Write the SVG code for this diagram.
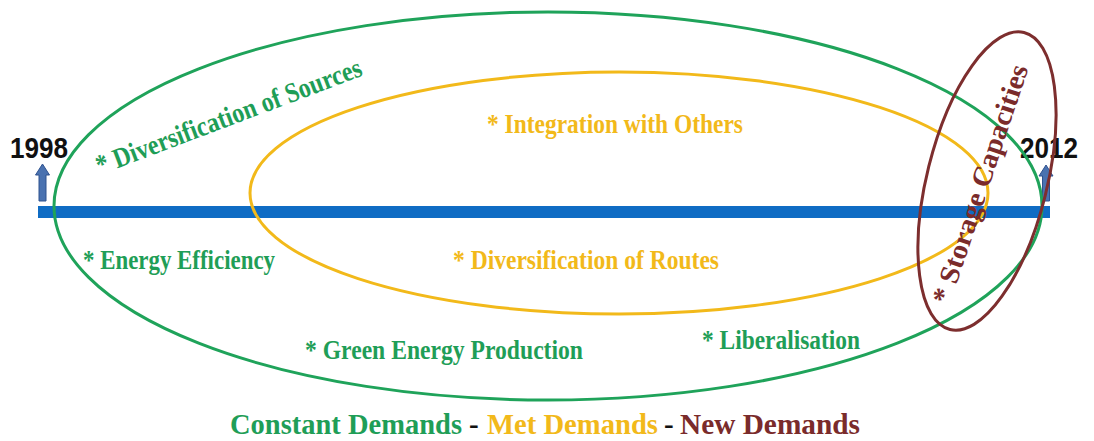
<svg xmlns="http://www.w3.org/2000/svg" width="1094" height="441" viewBox="0 0 1094 441">
<style>
.lbl{font-family:"Liberation Serif","DejaVu Serif",serif;font-weight:bold;font-size:28px}
.g{fill:#1f9e57}.y{fill:#f2b91a}.b{fill:#7a2b2b}
.yr{font-family:"Liberation Sans",Arial,sans-serif;font-weight:bold;font-size:30px;fill:#111}
.arr{fill:#4a72b0;stroke:#2f528f;stroke-width:1}
</style>
<rect width="1094" height="441" fill="#fff"/>
<g id="timeline">
<rect x="38" y="206" width="1012" height="12" fill="#0f6cc4"/>
</g>
<g id="arrow-1998"><path class="arr" d="M39,201 V175 H35.5 L42.5,164 L49.5,175 H46 V201 Z"/></g>
<g id="arrow-2012"><path class="arr" d="M1042.5,201 V176 H1039 L1046,165 L1053,176 H1049.5 V201 Z"/></g>
<g id="year-1998"><text class="yr" x="10" y="158" textLength="58" lengthAdjust="spacingAndGlyphs">1998</text></g>
<g id="year-2012"><text class="yr" x="1020" y="158" textLength="58" lengthAdjust="spacingAndGlyphs">2012</text></g>
<g id="constant-demands">
<ellipse cx="548" cy="206" rx="494" ry="194" fill="none" stroke="#1fa35a" stroke-width="3"/>
</g>
<g id="met-demands">
<ellipse cx="619" cy="193" rx="369" ry="121" fill="none" stroke="#f2b91a" stroke-width="3"/>
</g>
<g id="new-demands">
<ellipse cx="987" cy="181" rx="60" ry="153" transform="rotate(14 987 181)" fill="none" stroke="#7d2e2e" stroke-width="3"/>
</g>
<g id="labels">
<text class="lbl g" transform="translate(232,125) rotate(-20.7)" text-anchor="middle" x="0" y="0" textLength="282" lengthAdjust="spacingAndGlyphs">* Diversification of Sources</text>
<text class="lbl y" x="487" y="133" textLength="256" lengthAdjust="spacingAndGlyphs">* Integration with Others</text>
<text class="lbl g" x="83" y="269" textLength="192" lengthAdjust="spacingAndGlyphs">* Energy Efficiency</text>
<text class="lbl y" x="453" y="269" textLength="266" lengthAdjust="spacingAndGlyphs">* Diversification of Routes</text>
<text class="lbl g" x="305" y="359" textLength="278" lengthAdjust="spacingAndGlyphs">* Green Energy Production</text>
<text class="lbl g" x="702" y="349" textLength="158" lengthAdjust="spacingAndGlyphs">* Liberalisation</text>
<text class="lbl b" transform="translate(989,187) rotate(-71.6)" text-anchor="middle" x="0" y="0" textLength="250" lengthAdjust="spacingAndGlyphs">* Storage Capacities</text>
</g>
<g id="legend">
<text class="lbl" y="434" style="font-size:29px"><tspan class="g" x="230" textLength="232" lengthAdjust="spacingAndGlyphs">Constant Demands</tspan><tspan fill="#111" x="469">-</tspan><tspan class="y" x="487" textLength="171" lengthAdjust="spacingAndGlyphs">Met Demands</tspan><tspan fill="#111" x="664">-</tspan><tspan class="b" x="680" textLength="180" lengthAdjust="spacingAndGlyphs">New Demands</tspan></text>
</g>
</svg>
